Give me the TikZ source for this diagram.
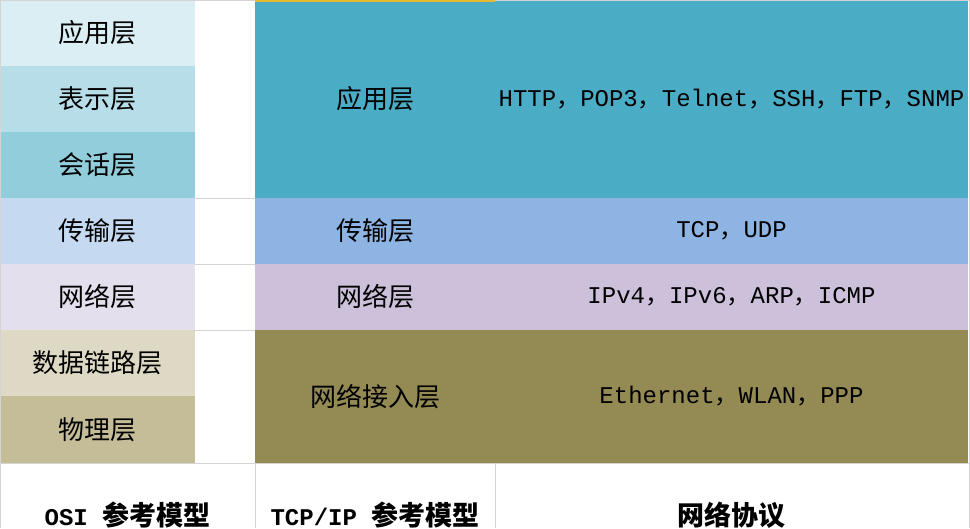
\documentclass[tikz,border=0pt]{standalone}
\usepackage{fontspec}
\setmainfont{Liberation Mono}
\newfontfamily\cjkfont{Noto Sans CJK SC}
\newcommand{\fwcomma}{{\cjkfont ，}}

\definecolor{osiapp}{HTML}{DAEEF3}
\definecolor{osipres}{HTML}{B7DDE8}
\definecolor{osisess}{HTML}{92CDDC}
\definecolor{ositrans}{HTML}{C5D9F1}
\definecolor{osinet}{HTML}{E4DFEC}
\definecolor{osilink}{HTML}{DDD9C4}
\definecolor{osiphys}{HTML}{C4BD97}
\definecolor{tcpapp}{HTML}{4BACC6}
\definecolor{tcptrans}{HTML}{8DB4E2}
\definecolor{tcpnet}{HTML}{CCC0DA}
\definecolor{tcpaccess}{HTML}{948A54}
\definecolor{gridgray}{HTML}{D4D4D4}
\definecolor{selgold}{HTML}{E8B830}

\begin{document}
\begin{tikzpicture}[x=1pt,y=1pt]
\tikzset{
  layercell/.style={rectangle,inner sep=0pt,outer sep=0pt,text=black},
  osicell/.style={layercell,minimum width=195pt,minimum height=66pt,font=\cjkfont\fontsize{26}{26}\selectfont},
  tcpcell/.style={layercell,minimum width=240pt,font=\cjkfont\fontsize{26}{26}\selectfont},
  protocell/.style={layercell,minimum width=473pt,font=\fontsize{24}{24}\selectfont},
  headtext/.style={inner sep=0pt,anchor=north,font=\bfseries\fontsize{24}{24}\selectfont},
  gridline/.style={draw=gridgray,line width=1pt}
}
\useasboundingbox (0,0) rectangle (970,-528);
\fill[white] (0,0) rectangle (970,-528);
% OSI column
\node[osicell,fill=osiapp] (osi_app) at (97.5,-33) {应用层};
\node[osicell,fill=osipres] (osi_pres) at (97.5,-99) {表示层};
\node[osicell,fill=osisess] (osi_sess) at (97.5,-165) {会话层};
\node[osicell,fill=ositrans] (osi_trans) at (97.5,-231) {传输层};
\node[osicell,fill=osinet] (osi_net) at (97.5,-297) {网络层};
\node[osicell,fill=osilink] (osi_link) at (97.5,-363) {数据链路层};
\node[osicell,fill=osiphys,minimum height=67pt] (osi_phys) at (97.5,-429.5) {物理层};
% TCP/IP column
\node[tcpcell,fill=tcpapp,minimum height=198pt] (tcp_app) at (375,-99) {应用层};
\node[tcpcell,fill=tcptrans,minimum height=66pt] (tcp_trans) at (375,-231) {传输层};
\node[tcpcell,fill=tcpnet,minimum height=66pt] (tcp_net) at (375,-297) {网络层};
\node[tcpcell,fill=tcpaccess,minimum height=133pt] (tcp_access) at (375,-396.5) {网络接入层};
% protocols
\node[protocell,fill=tcpapp,minimum height=198pt] (proto_app) at (731.5,-99) {HTTP\fwcomma POP3\fwcomma Telnet\fwcomma SSH\fwcomma FTP\fwcomma SNMP};
\node[protocell,fill=tcptrans,minimum height=66pt] (proto_trans) at (731.5,-231) {TCP\fwcomma UDP};
\node[protocell,fill=tcpnet,minimum height=66pt] (proto_net) at (731.5,-297) {IPv4\fwcomma IPv6\fwcomma ARP\fwcomma ICMP};
\node[protocell,fill=tcpaccess,minimum height=133pt] (proto_access) at (731.5,-396.5) {Ethernet\fwcomma WLAN\fwcomma PPP};
% grid lines
\draw[gridline] (0.5,0) -- (0.5,-528);
\draw[gridline] (969,0) -- (969,-528);
\draw[gridline] (0,-0.5) -- (255,-0.5);
\draw[gridline] (495,-0.5) -- (970,-0.5);
\foreach \gy in {198,264,330}
  \draw[gridline] (195,-\gy) -- (255,-\gy);
\draw[gridline] (0,-463) -- (970,-463);
\draw[gridline] (255,-463) -- (255,-528);
\draw[gridline] (495,-463) -- (495,-528);
\fill[selgold] (255,0) rectangle (495,-2);
% header row
\node[headtext] (head_osi) at (127.5,-502) {OSI {\cjkfont\bfseries\fontsize{27}{27}\selectfont 参考模型}};
\node[headtext] (head_tcp) at (375,-502) {TCP/IP {\cjkfont\bfseries\fontsize{27}{27}\selectfont 参考模型}};
\node[headtext] (head_proto) at (731.5,-502) {{\cjkfont\bfseries\fontsize{27}{27}\selectfont 网络协议}};
\end{tikzpicture}
\end{document}
